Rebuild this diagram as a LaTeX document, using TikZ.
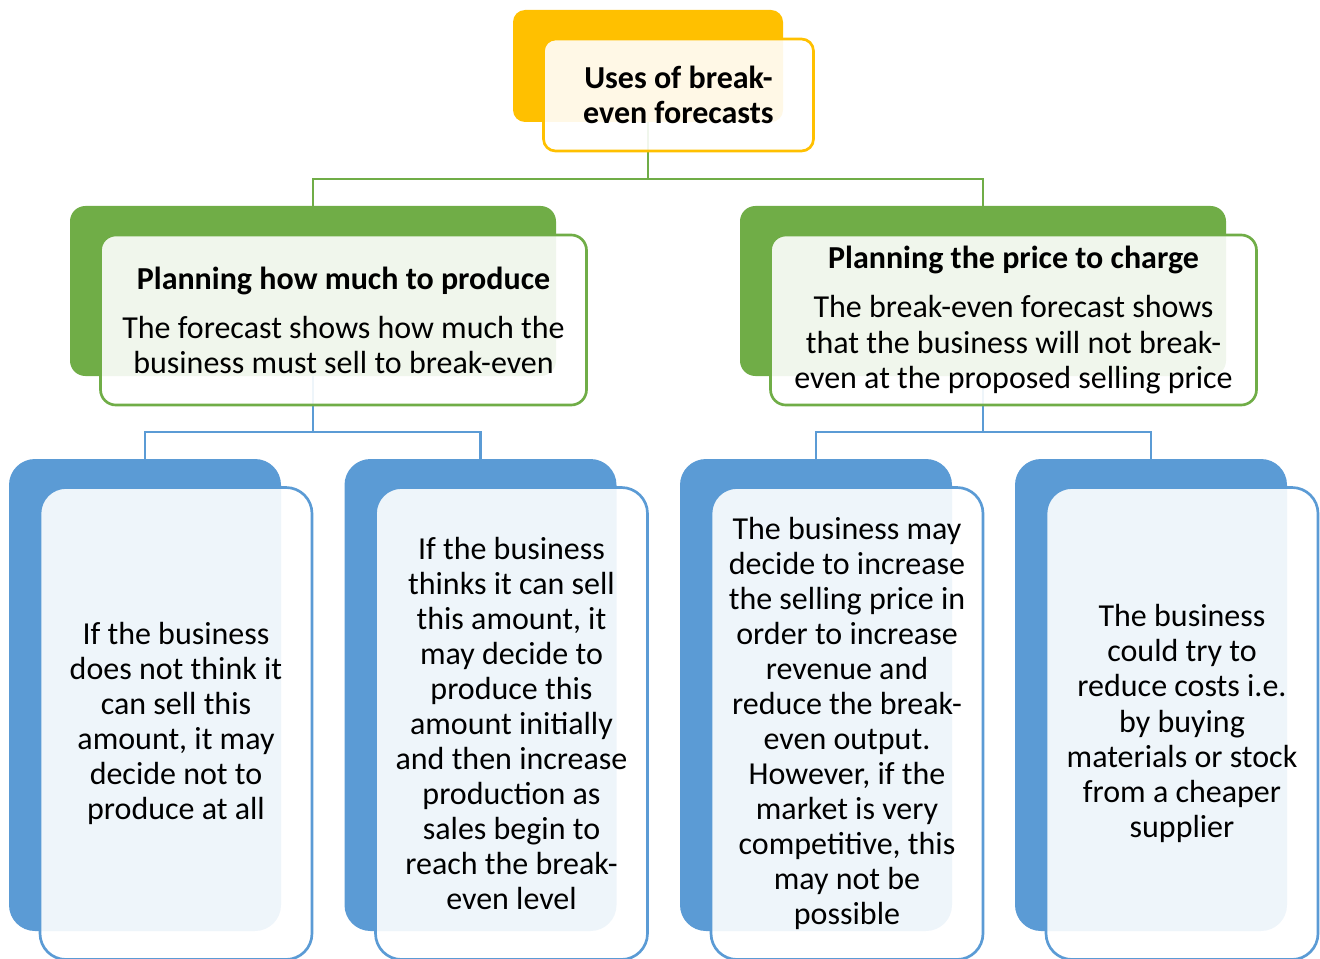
\documentclass[tikz,border=0pt]{standalone}
\usepackage{fontspec}
\setmainfont{Carlito}
\definecolor{accOrange}{HTML}{FFC000}
\definecolor{accGreen}{HTML}{70AD47}
\definecolor{accBlue}{HTML}{5B9BD5}
\begin{document}
\begin{tikzpicture}[x=0.75pt,y=-0.75pt,
  every node/.style={font=\fontsize{24pt}{26.3pt}\selectfont, inner sep=0pt, outer sep=0pt},
  backbox/.style={rectangle, draw=none},
  frontbox/.style={rectangle, fill=white, fill opacity=0.9, text opacity=1, draw opacity=1,
                   line width=2pt, align=center},
  lvlone/.style={minimum width=202.5pt, minimum height=84pt, rounded corners=9pt},
  lvltwo/.style={minimum width=364.5pt, minimum height=127.5pt, rounded corners=11.5pt},
  lvlthree/.style={minimum width=204pt, minimum height=354pt, rounded corners=19.5pt},
  conn/.style={line width=2pt}
]
\useasboundingbox (0,0) rectangle (1320,959);
\clip (0,0) rectangle (1320,959);

% solid back plates
\node[backbox, lvlone, fill=accOrange] (tb) at (648,66) {};
\node[backbox, lvltwo, fill=accGreen] (gla) at (313,291) {};
\node[backbox, lvltwo, fill=accGreen] (gra) at (983,291) {};
\node[backbox, lvlthree, fill=accBlue] (ba) at (145,695) {};
\node[backbox, lvlthree, fill=accBlue] (bb) at (480.5,695) {};
\node[backbox, lvlthree, fill=accBlue] (bc) at (816,695) {};
\node[backbox, lvlthree, fill=accBlue] (bd) at (1151,695) {};

% connector buses
\coordinate (busA) at (0,179);
\coordinate (busB) at (0,432);
\draw[conn, accGreen] (tb.south) -- (tb.south |- busA) -| (gla.north);
\draw[conn, accGreen] (tb.south |- busA) -| (gra.north);
\draw[conn, accBlue] (gla.south) -- (gla.south |- busB) -| (ba.north);
\draw[conn, accBlue] (gla.south |- busB) -| (bb.north);
\draw[conn, accBlue] (gra.south) -- (gra.south |- busB) -| (bc.north);
\draw[conn, accBlue] (gra.south |- busB) -| (bd.north);

% translucent front cards with the text
\node[frontbox, lvlone, draw=accOrange] (tf) at (678.5,95)
  {\bfseries Uses of break-\\\bfseries even forecasts};
\node[frontbox, lvltwo, draw=accGreen] (glf) at (343.5,320)
  {\bfseries Planning how much to produce\\[10.5pt]
   The forecast shows how much the\\business must sell to break-even};
\node[frontbox, lvltwo, draw=accGreen] (grf) at (1013.5,320)
  {\bfseries Planning the price to charge\\[10.5pt]
   The break-even forecast shows\\that the business will not break-\\even at the proposed selling price};
\node[frontbox, lvlthree, draw=accBlue] (baf) at (176,723.5)
  {If the business\\does not think it\\can sell this\\amount, it may\\decide not to\\produce at all};
\node[frontbox, lvlthree, draw=accBlue] (bbf) at (511.5,723.5)
  {If the business\\thinks it can sell\\this amount, it\\may decide to\\produce this\\amount initially\\and then increase\\production as\\sales begin to\\reach the break-\\even level};
\node[frontbox, lvlthree, draw=accBlue] (bcf) at (847,723.5)
  {The business may\\decide to increase\\the selling price in\\order to increase\\revenue and\\reduce the break-\\even output.\\However, if the\\market is very\\competitive, this\\may not be\\possible};
\node[frontbox, lvlthree, draw=accBlue] (bdf) at (1182,723.5)
  {The business\\could try to\\reduce costs i.e.\\by buying\\materials or stock\\from a cheaper\\supplier};
\end{tikzpicture}
\end{document}
